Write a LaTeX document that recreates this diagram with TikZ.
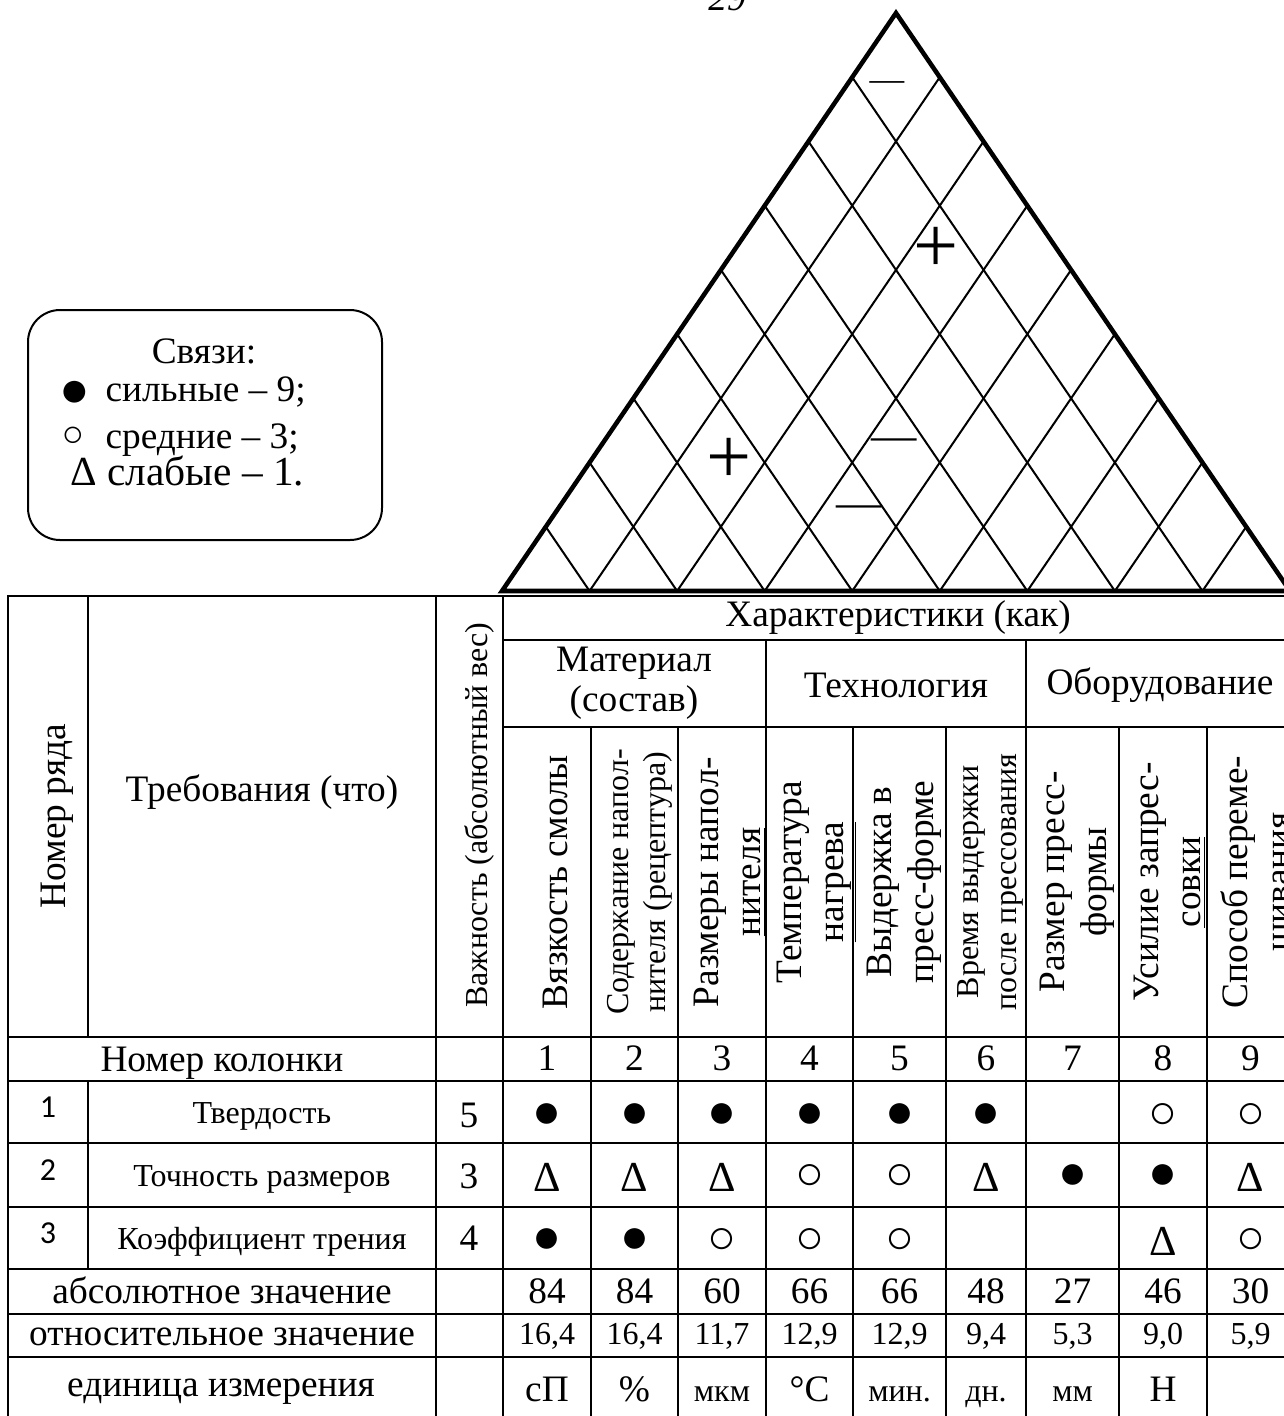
\documentclass[tikz,border=0pt]{standalone}
\usepackage{fontspec}
\setmainfont{Liberation Serif}
\newfontfamily\rownumfont{Carlito}
\usetikzlibrary{calc}

\newcommand\rS{{\fontsize{18}{18}\selectfont●}}
\newcommand\rM{{\fontsize{18}{18}\selectfont○}}
\newcommand\rW{{\fontsize{16}{16}\selectfont Δ}}
\newcommand\sm[1]{{\fontsize{12}{13}\selectfont #1}}

\begin{document}
\begin{tikzpicture}[x=0.375pt,y=-0.375pt,
  tabline/.style={line width=1pt},
  roofline/.style={line width=0.75pt},
  roofedge/.style={line width=1.7pt,line join=miter},
  txt/.style={inner sep=0pt,font=\fontsize{14}{15}\selectfont},
  smalltxt/.style={inner sep=0pt,font=\fontsize{12}{13}\selectfont},
  head/.style={rotate=90,align=center,inner sep=0pt,font=\fontsize{14}{16}\selectfont},
  smallhead/.style={head,font=\fontsize{12}{14}\selectfont},
  rownum/.style={inner sep=0pt,anchor=base,font=\rownumfont\fontsize{12}{12}\selectfont},
  sign/.style={inner sep=0pt},
  legend/.style={draw,line width=0.75pt,rounded corners=12pt,
    minimum width=132.75pt,minimum height=86.25pt}]
  \useasboundingbox (0,0) rectangle (1284,1416);

  % roof
  \coordinate (L) at (502,591);
  \coordinate (R) at (1290,591);
  \coordinate (A) at (896,13);
  \foreach \k in {1,...,8} {
    \coordinate (B\k) at ($(L)!\k/9!(R)$);
    \draw[roofline] ($(L)!\k/9!(A)$) -- (B\k) -- ($(R)!{1-\k/9}!(A)$);
  }
  \draw[roofedge] (L) -- (A) -- (R) -- cycle;
  \node[sign,font=\fontsize{13}{13}\selectfont] (m1) at (887,86) {—};
  \node[sign,font=\fontsize{30}{30}\selectfont] (p1) at (936,250) {+};
  \node[sign,font=\fontsize{30}{30}\selectfont] (p2) at (729,461) {+};
  \node[sign,font=\fontsize{17}{17}\selectfont] (m2) at (894,445) {—};
  \node[sign,font=\fontsize{17}{17}\selectfont] (m3) at (859,512) {—};
  \node[txt,font=\itshape\fontsize{14}{15}\selectfont,anchor=base] (page) at (727,10) {29};

  % legend
  \node[legend] (leg) at (205,425) {};
  \node[txt,anchor=base] (legT) at (204,363) {Связи:};
  \node[sign,font=\fontsize{19}{19}\selectfont] (leg1s) at (75,394) {●};
  \node[txt,anchor=base west] (leg1) at (105,401) {сильные – 9;};
  \node[sign,font=\fontsize{14}{14}\selectfont] (leg2s) at (73,437) {○};
  \node[txt,anchor=base west] (leg2) at (105,448) {средние – 3;};
  \node[txt,font=\fontsize{15.5}{16}\selectfont,anchor=base west] (leg3) at (70,485) {Δ слабые – 1.};

  % table
  \draw[tabline] (8,596) rectangle (1294,1425);
  \draw[tabline] (88,596) -- (88,1037) (88,1081) -- (88,1269);
  \draw[tabline] (436,596) -- (436,1425) (503,596) -- (503,1425);
  \foreach \x in {591,678,853,946,1119,1207}
    \draw[tabline] (\x,727) -- (\x,1425);
  \foreach \x in {766,1026}
    \draw[tabline] (\x,640) -- (\x,1425);
  \draw[tabline] (503,640) -- (1294,640) (503,727) -- (1294,727);
  \foreach \y in {1037,1081,1143,1207,1269,1314,1357}
    \draw[tabline] (8,\y) -- (1294,\y);

  \node[head] (rowhd) at (57,816) {Номер ряда};
  \node[txt] (req) at (262,792) {Требования (что)};
  \node[smallhead] (imp) at (479,815) {Важность (абсолютный вес)};
  \node[txt] (chr) at (898,618) {Характеристики (как)};
  \node[txt,align=center] (grp1) at (634,683) {Материал\\(состав)};
  \node[txt] (grp2) at (896,685) {Технология};
  \node[txt] (grp3) at (1160,685) {Оборудование};

  \node[head] (h1) at (555,882) {Вязкость смолы};
  \node[smallhead] (h2) at (640,882) {Содержание напол-\\нителя (рецептура)};
  \node[head] (h3) at (730,882) {Размеры напол-\\\underline{нителя}};
  \node[head] (h4) at (817,882) {Температура\\\underline{нагрева}};
  \node[head] (h5) at (907,882) {Выдержка в\\\underline{пресс-форме}};
  \node[smallhead] (h6) at (993,882) {Время выдержки\\\underline{после прессования}};
  \node[head] (h7) at (1080,882) {Размер пресс-\\\underline{формы}};
  \node[head] (h8) at (1170,882) {Усилие запрес-\\\underline{совки}};
  \node[head] (h9) at (1256,882) {Способ переме-\\шивания};

  \node[txt,anchor=base] (colhd) at (222,1071) {Номер колонки};
  \node[rownum] (rn1) at (48,1117) {1};
  \node[rownum] (rn2) at (48,1180) {2};
  \node[rownum] (rn3) at (48,1243) {3};
  \node[smalltxt,anchor=base] (q1) at (262,1123) {Твердость};
  \node[smalltxt,anchor=base] (q2) at (262,1186) {Точность размеров};
  \node[smalltxt,anchor=base] (q3) at (262,1249) {Коэффициент трения};
  \node[txt,anchor=base] (w1) at (469,1127) {5};
  \node[txt,anchor=base] (w2) at (469,1188) {3};
  \node[txt,anchor=base] (w3) at (469,1250) {4};

  \foreach \i/\x/\a/\b/\c in {1/547/\rS/\rW/\rS, 2/634.5/\rS/\rW/\rS,
      3/722/\rS/\rW/\rM, 4/809.5/\rS/\rM/\rM, 5/899.5/\rS/\rM/\rM,
      6/986/\rS/\rW/{}, 7/1072.5/{}/\rS/{}, 8/1163/\rM/\rS/\rW,
      9/1250.5/\rM/\rW/\rM} {
    \node[txt,anchor=base] (n\i) at (\x,1070) {\i};
    \node[txt] (a\i) at (\x,1116) {\a};
    \node[txt] (b\i) at (\x,1177) {\b};
    \node[txt] (c\i) at (\x,1241) {\c};
  }

  \node[txt,anchor=base] (absl) at (222,1303) {абсолютное значение};
  \node[txt,anchor=base] (rell) at (222,1345) {относительное значение};
  \node[txt,anchor=base] (unil) at (221,1396) {единица измерения};
  \foreach \i/\x/\v/\w/\u in {1/547/84/{16,4}/сП, 2/634.5/84/{16,4}/\%,
      3/722/60/{11,7}/\sm{мкм}, 4/809.5/66/{12,9}/°C, 5/899.5/66/{12,9}/\sm{мин.},
      6/986/48/{9,4}/\sm{дн.}, 7/1072.5/27/{5,3}/\sm{мм}, 8/1163/46/{9,0}/Н,
      9/1250.5/30/{5,9}/{}} {
    \node[txt,anchor=base] (v\i) at (\x,1303) {\v};
    \node[smalltxt,anchor=base] (r\i) at (\x,1344) {\w};
    \node[txt,anchor=base] (u\i) at (\x,1401) {\u};
  }
\end{tikzpicture}
\end{document}
